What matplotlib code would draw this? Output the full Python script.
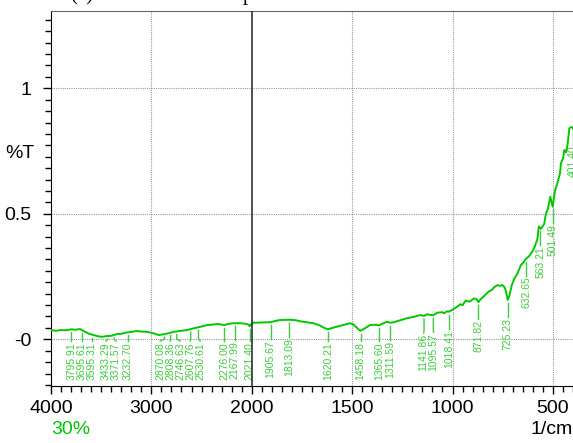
import matplotlib.pyplot as plt
import numpy as np
from matplotlib.ticker import FixedLocator, MultipleLocator

plt.rcParams['font.family'] = ['Liberation Sans', 'DejaVu Sans']

# spectrum (wavenumber, %T)
wn = [4000, 3950, 3900, 3850, 3793, 3760, 3710, 3690, 3660, 3620, 3577, 3530, 3493, 3443,
      3400, 3343, 3300, 3250, 3210, 3143, 3100, 3060, 3020, 2980, 2927, 2877, 2830, 2777,
      2720, 2643, 2577, 2530, 2510, 2443, 2400, 2343, 2300, 2277, 2230, 2177, 2110, 2060,
      2030, 2021, 2010, 1993, 1950, 1910, 1860, 1810, 1780, 1760, 1720, 1693, 1660, 1640,
      1622, 1600, 1577, 1540, 1510, 1495, 1475, 1460, 1440, 1410, 1380, 1368, 1350, 1327,
      1311, 1293, 1260, 1227, 1190, 1160, 1143, 1125, 1110, 1095, 1077, 1050, 1043, 1025,
      1018, 1000, 977, 960, 950, 935, 915, 893, 880, 871, 860, 843, 820, 802, 793, 777,
      765, 752, 743, 735, 725, 718, 705, 693, 675, 660, 645, 635, 620, 602, 590, 577,
      570, 560, 543, 535, 525, 513, 501, 490, 477, 465, 460, 450, 443, 435, 427, 418,
      410, 402, 395, 380, 365]
trans = [0.037, 0.034, 0.037, 0.036, 0.040, 0.038, 0.041, 0.036, 0.030, 0.022, 0.017, 0.012,
         0.010, 0.013, 0.014, 0.021, 0.022, 0.027, 0.029, 0.033, 0.031, 0.030, 0.028, 0.024,
         0.017, 0.020, 0.024, 0.030, 0.033, 0.037, 0.044, 0.048, 0.050, 0.057, 0.058, 0.061,
         0.059, 0.056, 0.062, 0.064, 0.064, 0.062, 0.058, 0.052, 0.058, 0.066, 0.067, 0.068,
         0.077, 0.078, 0.076, 0.072, 0.067, 0.064, 0.055, 0.046, 0.040, 0.045, 0.050, 0.058,
         0.064, 0.060, 0.045, 0.034, 0.042, 0.057, 0.058, 0.055, 0.062, 0.070, 0.066, 0.068,
         0.076, 0.084, 0.090, 0.097, 0.093, 0.100, 0.097, 0.096, 0.106, 0.108, 0.104, 0.112,
         0.110, 0.118, 0.130, 0.140, 0.136, 0.154, 0.150, 0.163, 0.160, 0.148, 0.160, 0.172,
         0.190, 0.198, 0.207, 0.216, 0.213, 0.216, 0.210, 0.195, 0.157, 0.170, 0.215, 0.240,
         0.265, 0.295, 0.308, 0.320, 0.330, 0.350, 0.370, 0.400, 0.450, 0.440, 0.460, 0.500,
         0.520, 0.568, 0.528, 0.590, 0.625, 0.660, 0.700, 0.720, 0.754, 0.745, 0.775, 0.841,
         0.845, 0.845, 0.830, 0.820, 0.815]

peaks = [3795.91, 3695.61, 3595.31, 3433.29, 3371.57, 3232.70, 2870.08, 2808.36, 2746.63,
         2607.76, 2530.61, 2276.00, 2167.99, 2021.40, 1905.67, 1813.09, 1620.21, 1458.18,
         1365.60, 1311.59, 1141.86, 1095.57, 1018.41, 871.82, 725.23, 632.65, 563.21,
         501.49, 401.40]

xticks = [4000, 3000, 2000, 1500, 1000, 500]
yticks = [0, 0.5, 1]
ytick_labels = ['-0', '0.5', '1']

green = '#00c800'
label_green = '#3ccc3c'


def fwd(x):
    x = np.asarray(x, dtype=float)
    return np.where(x >= 2000, x, 2 * x - 2000)


def inv(y):
    y = np.asarray(y, dtype=float)
    return np.where(y >= 2000, y, (y + 2000) / 2)


fig = plt.figure(figsize=(5.73, 4.43), dpi=100)
ax = fig.add_axes([51 / 573, 57 / 443, 529 / 573, 375 / 443])
ax.set_xscale('function', functions=(fwd, inv))
ax.set_xlim(4000, 365)
ax.set_ylim(-0.186, 1.308)

ax.spines['right'].set_visible(False)
ax.spines['top'].set_color('#666666')

ax.xaxis.set_major_locator(FixedLocator(xticks))
ax.xaxis.set_minor_locator(FixedLocator(list(range(3900, 2000, -100)) + list(range(1950, 360, -50))))
ax.set_xticks(xticks)
ax.set_xticklabels([str(t) for t in xticks])
ax.set_yticks(yticks)
ax.set_yticklabels(ytick_labels)
ax.yaxis.set_minor_locator(MultipleLocator(0.5 / 11))
ax.tick_params(axis='both', which='major', direction='out', length=6, width=1, labelsize=14)
ax.tick_params(axis='both', which='minor', direction='out', length=4, width=1)
ax.tick_params(axis='y', pad=8)
ax.tick_params(axis='x', pad=4)

for g in [3000, 1500, 1000, 500]:
    ax.axvline(g, color='#999999', ls=(0, (1, 1)), lw=0.8, zorder=1)
for g in yticks:
    ax.axhline(g, color='#999999', ls=(0, (1, 1)), lw=0.8, zorder=1)
ax.axvline(2000, color='#222222', lw=1.1, zorder=4)

ax.plot(wn, trans, color=green, lw=1.4, zorder=3)

# peak labels, spread apart so they do not overlap
fig.canvas.draw()
wn_asc = np.array(wn[::-1])
tr_asc = np.array(trans[::-1])
peak_v = np.interp(peaks, wn_asc, tr_asc)
px = ax.transData.transform(np.column_stack([peaks, peak_v]))[:, 0]
lab_px = px.copy()
for _ in range(200):
    for i in range(len(lab_px) - 1):
        gap = lab_px[i + 1] - lab_px[i]
        if gap < 10:
            d = (10 - gap) / 2
            lab_px[i] -= d
            lab_px[i + 1] += d
lab_x = ax.transData.inverted().transform(np.column_stack([lab_px, np.zeros_like(lab_px)]))[:, 0]

for p, v, lx in zip(peaks, peak_v, lab_x):
    v_text = max(v - 0.072, -0.011)
    ax.plot([p, p, lx], [v - 0.012, v_text + 0.012, v_text + 0.004],
            color=label_green, lw=1, zorder=3)
    ax.text(lx, v_text, f'{p:.2f}', rotation=90, ha='center', va='top',
            fontsize=7.5, color=label_green, clip_on=True, zorder=3)

fig.text(35 / 573, 1 - 154 / 443, '%T', fontsize=14, ha='right', va='center')
fig.text(51 / 573, 1 - 430 / 443, '30%', fontsize=14, color=green, ha='left', va='center')
fig.text(1.0, 1 - 430 / 443, '1/cm', fontsize=14, ha='right', va='center')
fig.text(82 / 573, 1.0, '(a)', fontsize=15, family='Liberation Serif', ha='center', va='baseline')
fig.text(248 / 573, 1.0, 'p', fontsize=15, family='Liberation Serif', ha='center', va='baseline')

fig.savefig('out.png', dpi=100)
